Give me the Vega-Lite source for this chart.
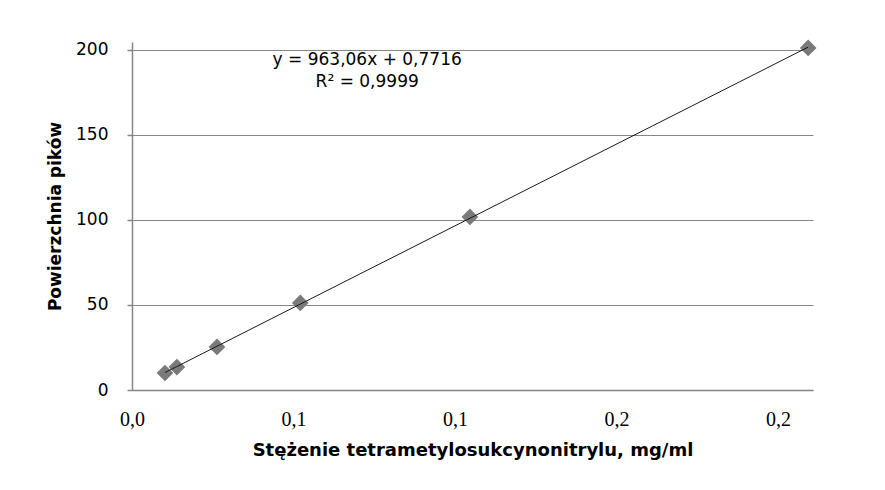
{
  "$schema": "https://vega.github.io/schema/vega-lite/v6.json",
  "width": 681,
  "height": 348,
  "autosize": "none",
  "padding": {"left": 132, "top": 42, "right": 72, "bottom": 100},
  "background": "white",
  "config": {"view": {"stroke": null}},
  "layer": [
    {
      "data": {"values": [
        {"conc": 0.0102, "area": 10.0},
        {"conc": 0.0139, "area": 13.5},
        {"conc": 0.0263, "area": 25.3},
        {"conc": 0.0521, "area": 51.2},
        {"conc": 0.1046, "area": 101.8},
        {"conc": 0.2093, "area": 201.2}
      ]},
      "layer": [
        {
          "mark": {"type": "point", "shape": "diamond", "filled": true, "color": "#7a7a7a", "size": 280, "opacity": 1},
          "encoding": {
            "x": {
              "field": "conc", "type": "quantitative",
              "scale": {"domain": [0, 0.2108], "nice": false, "zero": true},
              "axis": {
                "values": [0, 0.05, 0.1, 0.15, 0.2],
                "labelExpr": "replace(format(round(datum.value*10)/10, '.1f'), '.', ',')",
                "labelFlush": false,
                "grid": false, "ticks": false,
                "domainColor": "#868686", "domainWidth": 1.5,
                "labelFont": "Liberation Serif", "labelFontSize": 20, "labelColor": "#000000",
                "labelPadding": 19,
                "title": "Stężenie tetrametylosukcynonitrylu, mg/ml",
                "titleFont": "DejaVu Sans", "titleFontSize": 18, "titleFontWeight": "bold", "titleColor": "#000000",
                "titlePadding": 12
              }
            },
            "y": {
              "field": "area", "type": "quantitative",
              "scale": {"domain": [0, 204.7], "nice": false, "zero": true},
              "axis": {
                "values": [0, 50, 100, 150, 200],
                "format": "d",
                "grid": true, "gridColor": "#868686", "gridWidth": 1,
                "ticks": true, "tickSize": 5, "tickColor": "#868686", "tickWidth": 1.5,
                "domainColor": "#868686", "domainWidth": 1.5,
                "labelFont": "DejaVu Sans", "labelFontSize": 17, "labelColor": "#000000",
                "labelPadding": 19,
                "title": "Powierzchnia pików",
                "titleFont": "DejaVu Sans", "titleFontSize": 17, "titleFontWeight": "bold", "titleColor": "#000000",
                "titlePadding": 11
              }
            }
          }
        },
        {
          "mark": {"type": "line", "color": "#1a1a1a", "strokeWidth": 1},
          "transform": [{"regression": "area", "on": "conc"}],
          "encoding": {
            "x": {"field": "conc", "type": "quantitative"},
            "y": {"field": "area", "type": "quantitative"}
          }
        }
      ]
    },
    {
      "data": {"values": [
        {"label": "y = 963,06x + 0,7716", "tx": 0.0728, "ty": 194},
        {"label": "R² = 0,9999", "tx": 0.0728, "ty": 181}
      ]},
      "mark": {"type": "text", "font": "DejaVu Sans", "fontSize": 17, "fontWeight": "normal", "color": "#000000", "align": "center", "baseline": "middle"},
      "encoding": {
        "x": {"field": "tx", "type": "quantitative"},
        "y": {"field": "ty", "type": "quantitative"},
        "text": {"field": "label"}
      }
    }
  ]
}
